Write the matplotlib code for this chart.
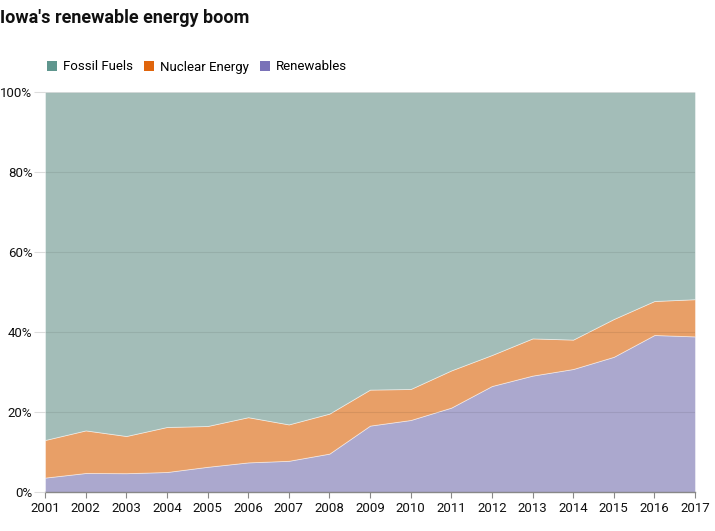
import matplotlib
matplotlib.use("Agg")
import matplotlib.pyplot as plt
from matplotlib.patches import Patch
from matplotlib.ticker import FuncFormatter

years = list(range(2001, 2018))
renewables = [3.6, 4.75, 4.7, 5.0, 6.3, 7.4, 7.8, 9.6, 16.6, 18.0, 21.1, 26.5, 29.1, 30.75, 33.8, 39.25, 38.9]
nuclear_top = [13.0, 15.4, 14.0, 16.25, 16.5, 18.7, 16.9, 19.6, 25.6, 25.75, 30.4, 34.25, 38.4, 38.1, 43.25, 47.75, 48.2]
nuclear = [t - r for t, r in zip(nuclear_top, renewables)]
fossil = [100 - t for t in nuclear_top]

series_names = ["Fossil Fuels", "Nuclear Energy", "Renewables"]
legend_colors = ["#5f968e", "#e0650c", "#7a72b8"]
area_colors = ["#a3bdb8", "#e89f67", "#aba8ce"]

plt.rcParams['font.family'] = ['Roboto', 'DejaVu Sans']

fig = plt.figure(figsize=(7.15, 5.31), dpi=100)
ax = fig.add_axes([45/715, 39/531, 650/715, 400/531])

ax.stackplot(years, renewables, nuclear, fossil,
             colors=[area_colors[2], area_colors[1], area_colors[0]],
             edgecolor=(1, 1, 1, 0.5), linewidth=0.6)

ax.set_xlim(2001, 2017)
ax.set_ylim(0, 100)
ax.set_xticks(years)
ax.set_yticks([0, 20, 40, 60, 80, 100])
ax.yaxis.set_major_formatter(FuncFormatter(lambda v, p: f"{int(v)}%"))
ax.grid(axis='y', color='#000000', alpha=0.08, linewidth=0.8)
ax.set_axisbelow(False)

for s in ['top', 'right', 'left']:
    ax.spines[s].set_visible(False)
ax.spines['bottom'].set_color('#888888')
ax.spines['bottom'].set_linewidth(1.0)

ax.tick_params(axis='x', length=4, color='#888888', labelsize=9.5, pad=3, labelcolor='#111111')
ax.tick_params(axis='y', length=8, color='#dddddd', labelsize=9.5, pad=1, labelcolor='#111111')

fig.text(0.0, 1 - 18/531, "Iowa's renewable energy boom", fontsize=13, fontweight='bold',
         va='center', ha='left', color='#111111')

handles = [Patch(facecolor=c, edgecolor='none') for c in legend_colors]
leg = fig.legend(handles, series_names, loc='center left', bbox_to_anchor=(42/715, 1 - 67/531),
                 ncol=3, frameon=False, fontsize=9.5, handlelength=0.75, handleheight=0.75,
                 handletextpad=0.45, columnspacing=0.85, borderaxespad=0)

fig.savefig("out.png", dpi=100)
